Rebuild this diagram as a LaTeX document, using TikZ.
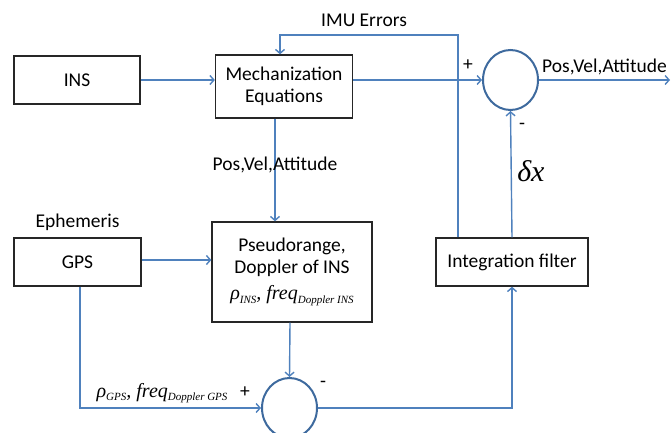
\documentclass[tikz,border=0pt]{standalone}
\usepackage{fontspec}
\setmainfont{Carlito}
\newfontfamily\timesit{Liberation Serif}[UprightFont=*-Italic]
\usetikzlibrary{arrows.meta,positioning,shapes.geometric}
\definecolor{lineblue}{HTML}{4F81BD}
\definecolor{sumblue}{HTML}{3E6A9E}
\newcommand{\lowsub}[1]{\raisebox{-3.5pt}{\fontsize{11}{12}\selectfont #1}}
\newcommand{\sig}[2]{{\timesit\fontsize{20}{22}\selectfont ρ\lowsub{#1}, freq\lowsub{Doppler #2}}}

\begin{document}
\begin{tikzpicture}[x=1pt,y=-1pt,font=\fontsize{19.5}{22}\selectfont]
				\tikzset{block/.style={draw=black!85,line width=1.3pt,align=center,inner sep=0pt},
					sum/.style={ellipse,draw=sumblue,line width=2pt,minimum width=55pt,minimum height=60pt,inner sep=0pt},
					link/.style={draw=lineblue,line width=1.4pt,-{Straight Barb[length=4pt,width=9pt]}}}
				\useasboundingbox (0,0) rectangle (671,433);
				\node [block, minimum width=126pt, minimum height=48pt] (ins) at (77,80) {INS};
				\node [block, minimum width=137pt, minimum height=63pt] (mech) at (284,86.5) {Mechanization\\Equations};
				\node [sum] (sumtop) at (510.5,80) {};
				\node [block, minimum width=152pt, minimum height=48pt] (filter) at (512,262) {Integration filter};
				\node [block, minimum width=160pt, minimum height=100pt] (pseudo) at (292,272) {Pseudorange,\\ Doppler of INS\\[4pt] \sig{INS}{INS}};
				\node [block, minimum width=127pt, minimum height=48pt] (gps) at (77.5,262) {GPS};
				\node [above =3pt of gps] (eph) {Ephemeris};
				\node [sum] (sumbot) at (289.5,408) {};
				\coordinate (out) at (670,80);
				\coordinate (imu) at (458,35);
				% top row
				\path [link] (ins.east |- 0,80) -- (mech.west |- 0,80);
				\path [link] (mech.east |- sumtop) -- (sumtop.west);
				\path [link] (sumtop.east) -- node [above=1pt] {Pos,Vel,Attitude} (out);
				\path [link] (filter.north -| imu) -- (imu) -| node [pos=0.264,above=4pt] {IMU Errors} ([xshift=-4pt]mech.north);
				\path [link] (filter.north) -- node [pos=0.52,right=2pt] {\timesit\fontsize{30}{32}\selectfont δx} (sumtop.south);
				\node at (468,65) {+};
				\node at (522,126) {-};
				% middle
				\path [link] ([xshift=-9pt]mech.south) -- node [pos=0.45] {Pos,Vel,Attitude} ([xshift=-17pt]pseudo.north);
				\path [link] (gps.east |- 0,260) -- (pseudo.west |- 0,260);
				% bottom
				\path [link] ([xshift=2.5pt]gps.south) |- node [pos=0.533,anchor=south west,inner sep=4pt] {\sig{GPS}{GPS}} (sumbot.west);
				\path [link] ([xshift=-2pt]pseudo.south) -- (sumbot.north);
				\path [link] (sumbot.east) -| (filter.south);
				\node at (245,392) {+};
				\node at (323,384) {-};
			\end{tikzpicture}
\end{document}
